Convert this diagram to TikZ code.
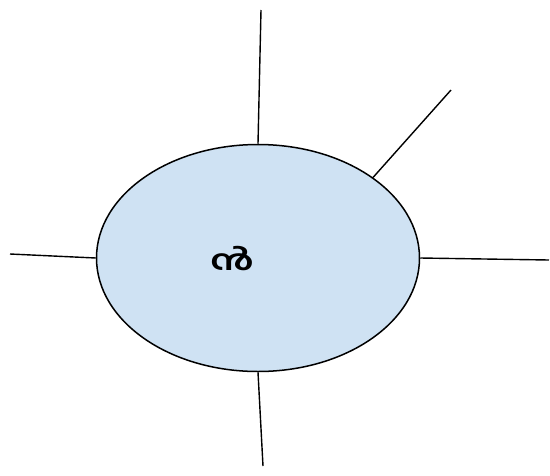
\documentclass[tikz,border=0pt]{standalone}
\usepackage{fontspec}
\newfontfamily\malfont[Script=Malayalam]{Hind Kochi}
\usetikzlibrary{shapes.geometric}
\definecolor{ellfill}{RGB}{207,226,243}
\tikzset{
  bubble/.style={ellipse, draw=black, fill=ellfill, line width=1.5pt, inner sep=0pt, minimum width=323pt, minimum height=227pt},
  spoke/.style={draw=black, line width=1.4pt},
  lbl/.style={font=\malfont\bfseries\fontsize{28}{32}\selectfont, inner sep=0pt, xscale=1.4}
}
\begin{document}
\begin{tikzpicture}[x=1pt,y=-1pt]
\useasboundingbox (0,0) rectangle (550,475);
\node[bubble] (e) at (258,258) {};
\node[lbl] (t) at (232,259) {ൻ};
\coordinate (top) at (261,10);
\coordinate (ur) at (451,90);
\coordinate (lft) at (10,254);
\coordinate (rgt) at (549,260);
\coordinate (bot) at (263,466);
\draw[spoke] (e.north) -- (top);
\draw[spoke] (e.35.4) -- (ur);
\draw[spoke] (e.west) -- (lft);
\draw[spoke] (e.east) -- (rgt);
\draw[spoke] (e.south) -- (bot);
\end{tikzpicture}
\end{document}
